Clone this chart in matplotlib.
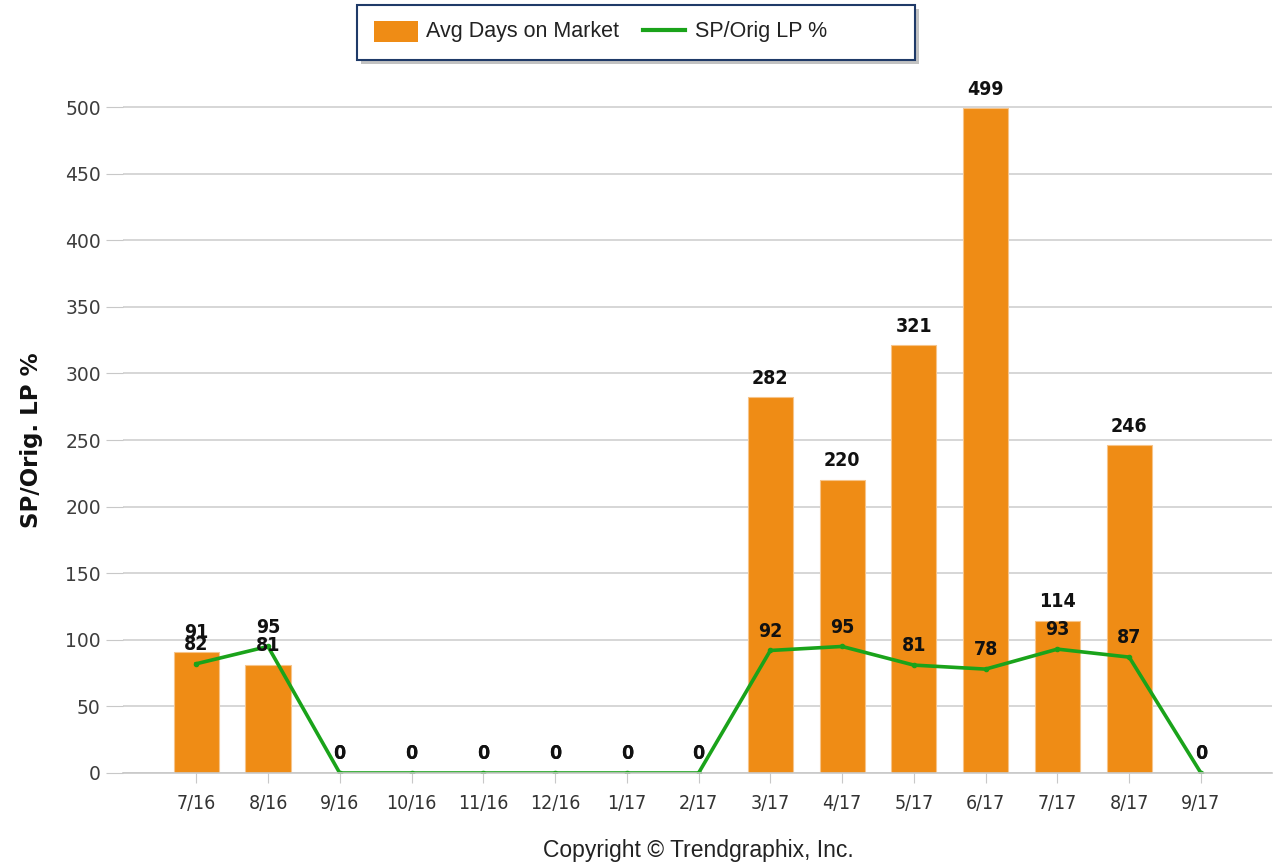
import matplotlib
matplotlib.use("Agg")
import matplotlib.pyplot as plt
from matplotlib.patches import Rectangle
from matplotlib.lines import Line2D
import numpy as np

months = ["7/16", "8/16", "9/16", "10/16", "11/16", "12/16", "1/17", "2/17",
          "3/17", "4/17", "5/17", "6/17", "7/17", "8/17", "9/17"]
avg_days = [91, 81, 0, 0, 0, 0, 0, 0, 282, 220, 321, 499, 114, 246, 0]
sp_orig_lp = [82, 95, 0, 0, 0, 0, 0, 0, 92, 95, 81, 78, 93, 87, 0]
yticks = [0, 50, 100, 150, 200, 250, 300, 350, 400, 450, 500]

BAR = "#ef8c15"
LINE = "#1aa31a"
SANS = ["Liberation Sans", "DejaVu Sans"]

fig = plt.figure(figsize=(12.75, 8.65), dpi=100)
ax = fig.add_axes([123/1275, 1-773/865, (1272-123)/1275, (773-70)/865])

x = np.arange(len(months))
ax.bar(x, avg_days, width=0.63, color=BAR, edgecolor="#f6c48a", linewidth=0.8, zorder=2)
ax.plot(x, sp_orig_lp, color=LINE, linewidth=2.6, marker="o", markersize=3, zorder=3)

for xi, v in zip(x, avg_days):
    ax.annotate(str(v), (xi, v), xytext=(0, 7), textcoords="offset points",
                ha="center", va="bottom", fontsize=14, fontweight="bold",
                family="DejaVu Sans", fontstretch="condensed", color="#111111", zorder=5)
for xi, v in zip(x, sp_orig_lp):
    ax.annotate(str(v), (xi, v), xytext=(0, 7), textcoords="offset points",
                ha="center", va="bottom", fontsize=14, fontweight="bold",
                family="DejaVu Sans", fontstretch="condensed", color="#111111", zorder=5)

ax.set_xlim(-1.02, 14.99)
ax.set_ylim(0, 527.8)
ax.set_yticks(yticks)
ax.set_xticks(x)
ax.set_xticklabels(months, family="DejaVu Sans", fontstretch="condensed", fontsize=14, color="#333333")
ax.tick_params(axis="y", length=12, color="#c8c8c8", labelsize=13.5, labelcolor="#3d3d3d", pad=4)
ax.tick_params(axis="x", length=7, color="#c8c8c8", pad=8)
ax.grid(axis="y", color="#d0d0d0", linewidth=1.2, zorder=0)
ax.set_axisbelow(True)
for s in ["top", "right", "left"]:
    ax.spines[s].set_visible(False)
ax.spines["bottom"].set_color("#c8c8c8")
ax.spines["bottom"].set_linewidth(1.2)
ax.spines["bottom"].set_zorder(4)

ax.set_ylabel("SP/Orig. LP %", fontsize=16.5, fontweight="bold", color="#111111")
ax.yaxis.set_label_coords(-0.07, 0.474)
fig.text(698/1275, 1-850/865, "Copyright \u00a9 Trendgraphix, Inc.", ha="center", va="center",
         fontsize=16.5, color="#222222", family=SANS)

# legend box with shadow
lx0, ly0, lx1, ly1 = 357/1275, 1-60/865, 915/1275, 1-5/865
fig.patches.append(Rectangle((lx0+4/1275, ly0-4/865), lx1-lx0, ly1-ly0, transform=fig.transFigure,
                             facecolor="#9a9a9a", edgecolor="none", alpha=0.6, zorder=1))
fig.patches.append(Rectangle((lx0, ly0), lx1-lx0, ly1-ly0, transform=fig.transFigure,
                             facecolor="white", edgecolor="#1f3a68", linewidth=1.5, zorder=2))
fig.patches.append(Rectangle((374/1275, 1-42/865), (418-374)/1275, 21/865, transform=fig.transFigure,
                             facecolor=BAR, edgecolor="none", zorder=3))
fig.text(426/1275, 1-32/865, "Avg Days on Market", ha="left", va="center", fontsize=15.5,
         color="#222222", family=SANS, zorder=4)
fig.lines.append(Line2D([643/1275, 685/1275], [1-30/865, 1-30/865], transform=fig.transFigure,
                        color=LINE, linewidth=3, zorder=3))
fig.text(695/1275, 1-32/865, "SP/Orig LP %", ha="left", va="center", fontsize=15.5,
         color="#222222", family=SANS, zorder=4)

fig.savefig("out.png", dpi=100)
